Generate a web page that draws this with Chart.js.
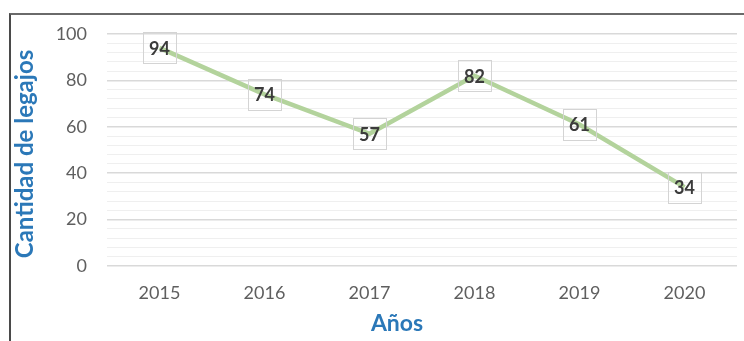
<!DOCTYPE html>
<html>
<head>
<meta charset="utf-8">
<script src="https://cdn.jsdelivr.net/npm/chart.js@4/dist/chart.umd.min.js"></script>
<style>
  html, body { margin: 0; padding: 0; background: #ffffff; }
  body { width: 744px; height: 341px; overflow: hidden; position: relative; }
  .frame {
    position: absolute; left: 9px; top: 13px; width: 800px; height: 400px;
    border-left: 2px solid #4a4a4a; border-top: 2px solid #6a6a6a;
    box-sizing: border-box;
  }
  canvas { position: absolute; left: 0; top: 0; }
</style>
</head>
<body>
<div class="frame"></div>
<canvas id="chart" width="744" height="341"></canvas>
<script>
// Años y cantidad de legajos por año
const years = ['2015', '2016', '2017', '2018', '2019', '2020'];
const legajos = [94, 74, 57, 82, 61, 34];
const yMajorTicks = [0, 20, 40, 60, 80, 100];

const xTitle = 'Años';
const yTitle = 'Cantidad de legajos';

const FONT = 'Lato, "Open Sans", sans-serif';
const TITLE_BLUE = '#2b78b8';

// Boxed value label centred on each point
const valueLabels = {
  id: 'valueLabels',
  afterDatasetsDraw(chart) {
    const ctx = chart.ctx;
    const meta = chart.getDatasetMeta(0);
    ctx.save();
    ctx.font = 'bold 18px ' + FONT;
    ctx.textAlign = 'center';
    ctx.textBaseline = 'middle';
    meta.data.forEach((pt, i) => {
      const w = 33, h = 31;
      ctx.strokeStyle = '#d4d4d4';
      ctx.lineWidth = 1;
      ctx.strokeRect(Math.round(pt.x - w / 2) + 0.5, Math.round(pt.y - h / 2) + 0.5, w, h);
      ctx.fillStyle = '#3b3b3b';
      ctx.fillText(String(legajos[i]), pt.x, pt.y + 1);
    });
    ctx.restore();
  }
};

// Axis titles
const axisTitles = {
  id: 'axisTitles',
  afterDraw(chart) {
    const ctx = chart.ctx;
    const area = chart.chartArea;
    ctx.save();
    ctx.fillStyle = TITLE_BLUE;
    ctx.textAlign = 'center';
    ctx.textBaseline = 'middle';
    ctx.font = 'bold 23px ' + FONT;
    ctx.fillText(xTitle, area.left + (area.right - area.left) / 2 - 25, 324);
    ctx.font = 'bold 24px ' + FONT;
    ctx.translate(25, (area.top + area.bottom) / 2 + 4);
    ctx.rotate(-Math.PI / 2);
    ctx.fillText(yTitle, 0, 0);
    ctx.restore();
  }
};

new Chart(document.getElementById('chart'), {
  type: 'line',
  data: {
    labels: years,
    datasets: [{
      data: legajos,
      borderColor: '#b3d39c',
      borderWidth: 4.5,
      pointRadius: 0,
      pointHoverRadius: 0,
      tension: 0,
      fill: false
    }]
  },
  options: {
    responsive: false,
    animation: false,
    events: [],
    layout: { padding: { top: 34, right: 7, left: 0, bottom: 0 } },
    plugins: {
      legend: { display: false },
      tooltip: { enabled: false },
      title: { display: false }
    },
    scales: {
      x: {
        type: 'category',
        offset: true,
        grid: { display: false, drawTicks: false },
        border: { display: false },
        ticks: {
          color: '#5f5f5f',
          font: { family: FONT, size: 18 },
          padding: 16,
          maxRotation: 0
        },
        afterFit(scale) { scale.height = 75; }
      },
      y: {
        min: 0,
        max: 100,
        border: { display: false },
        grid: {
          drawTicks: false,
          color: (c) => yMajorTicks.includes(c.tick.value) ? '#d9d9d9' : '#efefef',
          lineWidth: (c) => yMajorTicks.includes(c.tick.value) ? 1.5 : 1
        },
        ticks: {
          stepSize: 4,
          autoSkip: false,
          color: '#5f5f5f',
          font: { family: FONT, size: 18 },
          padding: 20,
          callback: (v) => yMajorTicks.includes(v) ? String(v) : ''
        },
        afterFit(scale) { scale.width = 107; }
      }
    }
  },
  plugins: [valueLabels, axisTitles]
});
</script>
</body>
</html>
